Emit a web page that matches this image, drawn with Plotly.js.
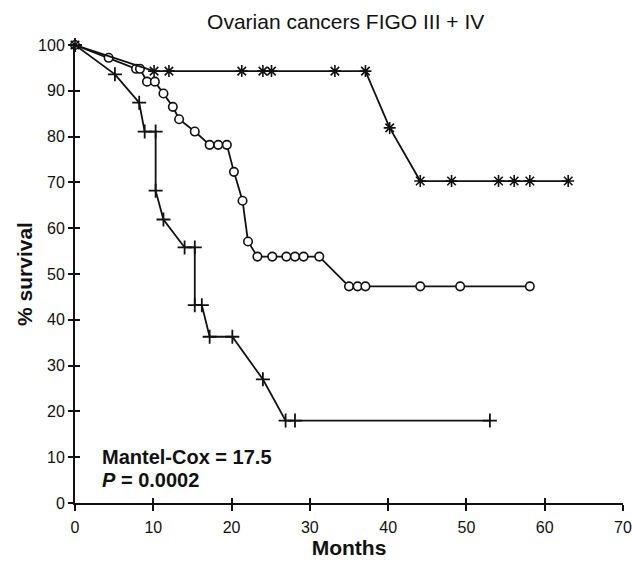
<!DOCTYPE html>
<html>
<head>
<meta charset="utf-8">
<script src="https://cdn.plot.ly/plotly-3.0.1.min.js"></script>
<style>html,body{margin:0;padding:0;background:#fff;}#chart{width:632px;height:566px;}</style>
</head>
<body>
<div id="chart"></div>
<script>
// Star series (top curve)
const starMonths   = [0, 10.1, 12.0, 21.3, 24.0, 25.1, 33.2, 37.1, 40.2, 44.1, 48.1, 54.1, 56.1, 58.1, 63.0];
const starSurvival = [100, 94.3, 94.3, 94.3, 94.3, 94.3, 94.3, 94.3, 81.9, 70.3, 70.3, 70.3, 70.3, 70.3, 70.3];

// Circle series (middle curve)
const circleMonths   = [0, 4.3, 7.8, 8.3, 9.2, 10.2, 11.3, 12.5, 13.3, 15.3, 17.2, 18.3, 19.4, 20.3, 21.4, 22.1, 23.3, 25.2, 27.0, 28.1, 29.2, 31.2, 35.0, 36.1, 37.1, 44.1, 49.2, 58.1];
const circleSurvival = [100, 97.2, 94.8, 94.8, 92.0, 92.0, 89.4, 86.5, 83.8, 81.1, 78.2, 78.2, 78.2, 72.3, 66.0, 57.1, 53.8, 53.8, 53.8, 53.8, 53.8, 53.8, 47.3, 47.3, 47.3, 47.3, 47.3, 47.3];

// Cross series (bottom curve)
const crossMonths   = [0, 5.1, 8.2, 8.9, 10.3, 10.3, 11.3, 14.0, 15.3, 15.3, 16.2, 17.2, 20.1, 24.0, 26.9, 28.1, 53.0];
const crossSurvival = [100, 93.6, 87.4, 81.1, 81.1, 68.2, 61.9, 55.8, 55.8, 43.2, 43.2, 36.3, 36.3, 27.0, 18.0, 18.0, 18.0];

const xTicks = [0, 10, 20, 30, 40, 50, 60, 70];
const yTicks = [0, 10, 20, 30, 40, 50, 60, 70, 80, 90, 100];

const FONT = "Liberation Sans, Arial, Helvetica, sans-serif";

const traces = [
  {x: crossMonths, y: crossSurvival, mode: 'lines+markers', cliponaxis: false,
   line: {color: '#111', width: 1.8},
   marker: {symbol: 'cross-thin-open', size: 10, color: '#111', line: {color: '#111', width: 1.8}}},
  {x: circleMonths, y: circleSurvival, mode: 'lines+markers', cliponaxis: false,
   line: {color: '#111', width: 1.8},
   marker: {symbol: 'circle', size: 8.5, color: '#fff', line: {color: '#111', width: 1.6}}},
  {x: starMonths, y: starSurvival, mode: 'lines+markers', cliponaxis: false,
   line: {color: '#111', width: 1.8},
   marker: {symbol: 'asterisk-open', size: 10, color: '#111', line: {color: '#111', width: 1.6}}},
  {x: [0], y: [0], xaxis: 'x2', yaxis: 'y2', mode: 'markers', marker: {opacity: 0}, hoverinfo: 'skip'}
];

const layout = {
  width: 632, height: 566,
  margin: {l: 75, r: 9, t: 45, b: 63},
  paper_bgcolor: '#fff', plot_bgcolor: '#fff',
  showlegend: false,
  font: {family: FONT, color: '#111', size: 16},
  title: {text: 'Ovarian cancers FIGO III + IV', font: {family: FONT, size: 21, color: '#111'},
          x: 0.547, xanchor: 'center', y: 0.962, yanchor: 'middle'},
  xaxis: {range: [0, 70], tickvals: xTicks, ticks: 'outside', ticklen: 6, tickwidth: 2, tickcolor: '#111',
          showline: true, linewidth: 2, linecolor: '#111', showgrid: false, zeroline: false,
          ticklabelstandoff: 3,
          tickfont: {family: FONT, size: 16, color: '#111'},
          title: {text: '<b>Months</b>', font: {family: FONT, size: 21, color: '#111'}, standoff: 5}},
  yaxis: {range: [0, 100], tickvals: yTicks, ticks: 'outside', ticklen: 5, tickwidth: 2, tickcolor: '#111',
          showline: true, linewidth: 2, linecolor: '#111', showgrid: false, zeroline: false,
          tickfont: {family: FONT, size: 16, color: '#111'},
          title: {text: '<b>% survival</b>', font: {family: FONT, size: 21, color: '#111'}, standoff: 0}},
  xaxis2: {range: [0, 70], tickvals: xTicks, ticks: 'inside', ticklen: 5, tickwidth: 2, tickcolor: '#111',
           overlaying: 'x', side: 'bottom', anchor: 'y2', showticklabels: false, showline: false,
           showgrid: false, zeroline: false},
  yaxis2: {range: [0, 100], tickvals: yTicks, ticks: 'inside', ticklen: 5, tickwidth: 2, tickcolor: '#111',
           overlaying: 'y', side: 'left', anchor: 'x2', showticklabels: false, showline: false,
           showgrid: false, zeroline: false},
  annotations: [
    {x: 3.2, y: 10, xref: 'x', yref: 'y', xanchor: 'left', yanchor: 'middle', showarrow: false,
     text: '<b>Mantel-Cox = 17.5</b>', font: {family: FONT, size: 20, color: '#111'}},
    {x: 3.2, y: 5, xref: 'x', yref: 'y', xanchor: 'left', yanchor: 'middle', showarrow: false,
     text: '<b><i>P</i> = 0.0002</b>', font: {family: FONT, size: 20, color: '#111'}}
  ]
};

Plotly.newPlot('chart', traces, layout, {staticPlot: true, displayModeBar: false});
</script>
</body>
</html>
